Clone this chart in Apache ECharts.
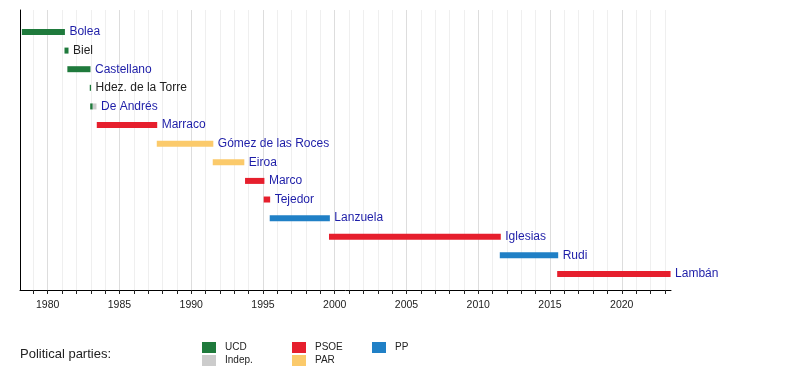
<!DOCTYPE html>
<html>
<head>
<meta charset="utf-8">
<script src="https://cdn.jsdelivr.net/npm/echarts@6/dist/echarts.min.js"></script>
<style>html,body{margin:0;padding:0;background:#fff}#c{width:800px;height:370px}</style>
</head>
<body>
<div id="c"></div>
<script>
// ---- Data ----
const presidents = ['Bolea','Biel','Castellano','Hdez. de la Torre','De Andrés','Marraco','Gómez de las Roces','Eiroa','Marco','Tejedor','Lanzuela','Iglesias','Rudi','Lambán'];
const linked = [true,false,true,false,true,true,true,true,true,true,true,true,true,true];
// term segments
const segRow   = [0, 1, 2, 3, 4, 4, 5, 6, 7, 8, 9, 10, 11, 12, 13];
const segStart = [1978.2, 1981.17, 1981.37, 1982.93, 1982.96, 1983.14, 1983.42, 1987.6, 1991.5, 1993.75, 1995.05, 1995.47, 1999.6, 2011.5, 2015.5];
const segEnd   = [1981.2, 1981.45, 1982.98, 1983.02, 1983.14, 1983.4, 1987.63, 1991.54, 1993.7, 1995.1, 1995.5, 1999.66, 2011.57, 2015.57, 2023.4];
const segParty = ['UCD','UCD','UCD','UCD','UCD','Indep.','PSOE','PAR','PAR','PSOE','PSOE','PP','PSOE','PP','PSOE'];
const parties = ['UCD','Indep.','PSOE','PAR','PP'];
const partyColors = {'UCD':'#1f7a3c','Indep.':'#cccccc','PSOE':'#e61f2d','PAR':'#fbca6b','PP':'#2080c6'};
const axisMin = 1978.07, axisMax = 2023.43;
const majorTicks = [1980,1985,1990,1995,2000,2005,2010,2015,2020];
const minorTicks = [];
for (let y = 1979; y <= 2023; y++) minorTicks.push(y);

// ---- Build ----
function renderBar(params, api) {
  const s = api.coord([api.value(0), api.value(2)]);
  const e = api.coord([api.value(1), api.value(2)]);
  const h = 6;
  return {
    type: 'rect',
    shape: { x: s[0], y: s[1] - h / 2, width: Math.max(e[0] - s[0], 1.2), height: h },
    style: { fill: api.visual('color') }
  };
}
const partySeries = parties.map(p => ({
  type: 'custom',
  name: p,
  xAxisIndex: 0,
  renderItem: renderBar,
  itemStyle: { color: partyColors[p] },
  encode: { x: [0, 1], y: 2 },
  data: segRow.map((r, i) => [segStart[i], segEnd[i], r, segParty[i]]).filter(d => d[3] === p).map(d => d.slice(0, 3)),
  silent: true
}));
const rowEnd = presidents.map((n, r) => Math.max(...segEnd.filter((e, i) => segRow[i] === r)));
const labelSeries = {
  type: 'custom',
  xAxisIndex: 0,
  silent: true,
  encode: { x: 0, y: 1 },
  data: presidents.map((n, r) => [rowEnd[r], r]),
  renderItem: function (params, api) {
    const p = api.coord([api.value(0), api.value(1)]);
    const idx = params.dataIndex;
    return {
      type: 'text',
      x: p[0] + 4.5, y: p[1],
      style: {
        text: presidents[idx],
        fill: linked[idx] ? '#1e1ea8' : '#222',
        font: '12px "Liberation Sans", Arial, sans-serif',
        textVerticalAlign: 'middle', textAlign: 'left'
      }
    };
  }
};

const option = {
  animation: false,
  textStyle: { fontFamily: '"Liberation Sans", Arial, sans-serif' },
  title: {
    text: 'Political parties:', left: 20, top: 348, padding: 0,
    textStyle: { fontSize: 13, fontWeight: 'normal', color: '#222' }
  },
  grid: { left: 20, right: 129, top: 10, bottom: 80 },
  legend: [
    { data: ['UCD','Indep.'], left: 202, top: 342 },
    { data: ['PSOE','PAR'], left: 292, top: 342 },
    { data: ['PP'], left: 372, top: 342 }
  ].map(l => Object.assign(l, {
    orient: 'vertical', padding: 0, itemWidth: 14, itemHeight: 11, itemGap: 2, icon: 'rect',
    selectedMode: false,
    textStyle: { fontSize: 10, color: '#222', padding: [0, 0, 0, 4] }
  })),
  xAxis: [
    {
      type: 'value', min: axisMin, max: axisMax, position: 'bottom',
      axisLine: { show: true, onZero: false, lineStyle: { color: '#000', width: 1 } },
      axisTick: { show: true, length: 4, customValues: minorTicks, lineStyle: { color: '#222' } },
      axisLabel: { show: true, customValues: majorTicks, fontSize: 10.5, color: '#222', margin: 10,
                   formatter: v => String(Math.round(v)) },
      splitLine: { show: true, lineStyle: { color: '#efefef', width: 1 } }
    },
    {
      type: 'value', min: axisMin, max: axisMax, position: 'top',
      axisLine: { show: false, onZero: false },
      axisTick: { show: false, customValues: majorTicks },
      axisLabel: { show: false, customValues: majorTicks },
      splitLine: { show: true, lineStyle: { color: '#dddddd', width: 1 } }
    }
  ],
  yAxis: {
    type: 'value', inverse: true, min: -1.18, max: 13.86,
    axisLine: { show: true, onZero: false, lineStyle: { color: '#000', width: 1 } },
    axisTick: { show: false }, axisLabel: { show: false }, splitLine: { show: false }
  },
  series: partySeries.concat([labelSeries])
};
const chart = echarts.init(document.getElementById('c'), null, { renderer: 'canvas' });
chart.setOption(option);
</script>
</body>
</html>
